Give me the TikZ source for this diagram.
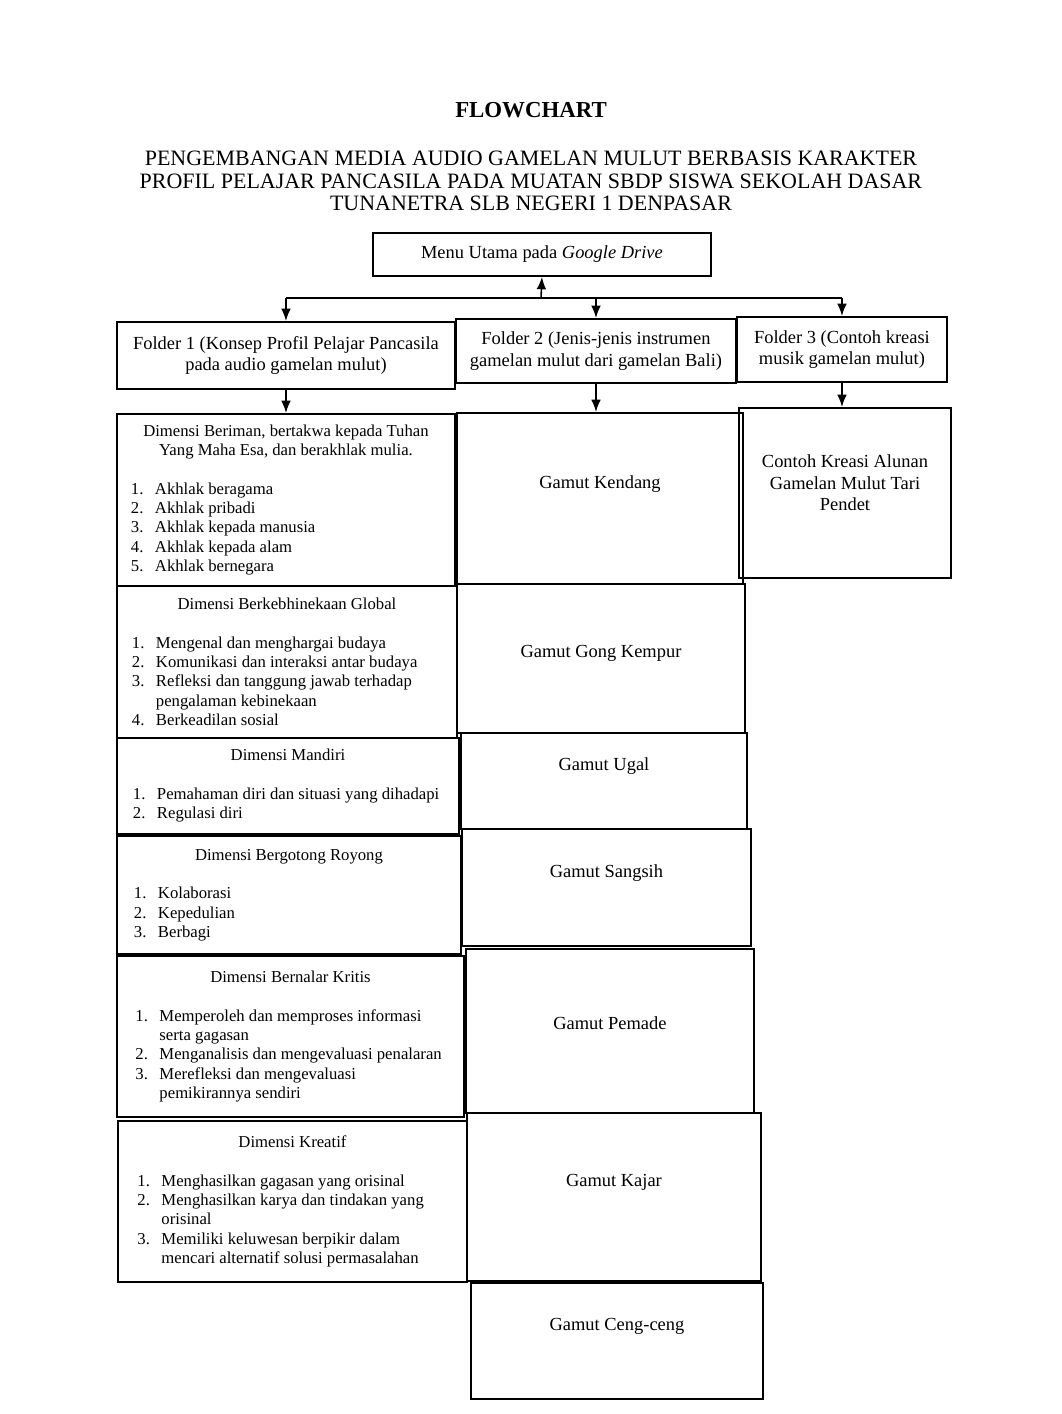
\documentclass[tikz,border=0pt]{standalone}
\usepackage{fontspec}
\setmainfont{Liberation Serif}
\usetikzlibrary{arrows.meta}

\newcommand{\butir}[2]{\mbox{\makebox[0.48cm][l]{#1}#2}}
\newenvironment{isi}{\begin{minipage}{6.2cm}\centering}{\end{minipage}}
\newcommand{\daftar}{\par\vspace{11pt}\raggedright}

\tikzset{
  ukuran/.style 2 args={minimum width=#1*0.02cm, minimum height=#2*0.02cm},
  kotak/.style={draw, line width=1.1pt, anchor=north west, inner sep=0pt, align=center,
    font=\fontsize{10.5}{12.3}\selectfont},
  dimensi/.style={kotak, font=\fontsize{9.5}{11}\selectfont},
  gamut/.style={kotak, text height=7pt, text depth=0.65cm},
  panah/.style={-{Latex[length=7pt,width=5.5pt]}, line width=0.9pt}
}

\begin{document}
\begin{tikzpicture}[x=0.02cm, y=-0.02cm]
\useasboundingbox (0,0) rectangle (1062,1414);

\node[font=\fontsize{13}{15}\selectfont\bfseries] (judul) at (531,110) {FLOWCHART};
\node[align=center, font=\fontsize{12.5}{12.8}\selectfont] (subjudul) at (531,181)
  {PENGEMBANGAN MEDIA AUDIO GAMELAN MULUT BERBASIS KARAKTER\\
   PROFIL PELAJAR PANCASILA PADA MUATAN SBDP SISWA SEKOLAH DASAR\\
   TUNANETRA SLB NEGERI 1 DENPASAR};

\node[kotak, ukuran={338}{43}] (menu) at (372,232) {Menu Utama pada \textit{Google Drive}};

% folder
\node[kotak, ukuran={338}{67}] (f1) at (116,321) {Folder 1 (Konsep Profil Pelajar Pancasila\\pada audio gamelan mulut)};
\node[kotak, ukuran={280}{64}] (f2) at (455,318) {Folder 2 (Jenis-jenis instrumen\\gamelan mulut dari gamelan Bali)};
\node[kotak, ukuran={210}{65}] (f3) at (736,316) {Folder 3 (Contoh kreasi\\musik gamelan mulut)};

% dimensi profil pelajar pancasila
\node[dimensi, ukuran={338}{172}] (d1) at (116,413) {\begin{isi}
  Dimensi Beriman, bertakwa kepada Tuhan\\Yang Maha Esa, dan berakhlak mulia.\daftar
  \butir{1.}{Akhlak beragama}\\
  \butir{2.}{Akhlak pribadi}\\
  \butir{3.}{Akhlak kepada manusia}\\
  \butir{4.}{Akhlak kepada alam}\\
  \butir{5.}{Akhlak bernegara}\end{isi}};
\node[dimensi, ukuran={340}{152}] (d2) at (116,585) {\begin{isi}
  Dimensi Berkebhinekaan Global\daftar
  \butir{1.}{Mengenal dan menghargai budaya}\\
  \butir{2.}{Komunikasi dan interaksi antar budaya}\\
  \butir{3.}{Refleksi dan tanggung jawab terhadap}\\
  \butir{}{pengalaman kebinekaan}\\
  \butir{4.}{Berkeadilan sosial}\end{isi}};
\node[dimensi, ukuran={342}{96}] (d3) at (116,737) {\begin{isi}
  Dimensi Mandiri\daftar
  \butir{1.}{Pemahaman diri dan situasi yang dihadapi}\\
  \butir{2.}{Regulasi diri}\end{isi}};
\node[dimensi, ukuran={344}{118}] (d4) at (116,835) {\begin{isi}
  Dimensi Bergotong Royong\daftar
  \butir{1.}{Kolaborasi}\\
  \butir{2.}{Kepedulian}\\
  \butir{3.}{Berbagi}\end{isi}};
\node[dimensi, ukuran={347}{161}] (d5) at (116,955) {\begin{isi}
  Dimensi Bernalar Kritis\daftar
  \butir{1.}{Memperoleh dan memproses informasi}\\
  \butir{}{serta gagasan}\\
  \butir{2.}{Menganalisis dan mengevaluasi penalaran}\\
  \butir{3.}{Merefleksi dan mengevaluasi}\\
  \butir{}{pemikirannya sendiri}\end{isi}};
\node[dimensi, ukuran={349}{161}] (d6) at (117,1120) {\begin{isi}
  Dimensi Kreatif\daftar
  \butir{1.}{Menghasilkan gagasan yang orisinal}\\
  \butir{2.}{Menghasilkan karya dan tindakan yang}\\
  \butir{}{orisinal}\\
  \butir{3.}{Memiliki keluwesan berpikir dalam}\\
  \butir{}{mencari alternatif solusi permasalahan}\end{isi}};

% jenis instrumen
\node[gamut, ukuran={286}{171}] (kendang) at (456,412) {Gamut Kendang};
\node[gamut, ukuran={288}{149}, text depth=0.3cm] (gong) at (456,583) {Gamut Gong Kempur};
\node[gamut, ukuran={286}{96}] (ugal) at (460,732) {Gamut Ugal};
\node[gamut, ukuran={289}{117}] (sangsih) at (461,828) {Gamut Sangsih};
\node[gamut, ukuran={288}{164}, text depth=0.3cm] (pemade) at (465,948) {Gamut Pemade};
\node[gamut, ukuran={294}{168}] (kajar) at (466,1112) {Gamut Kajar};
\node[gamut, ukuran={292}{116}] (ceng) at (470,1282) {Gamut Ceng-ceng};

% contoh kreasi
\node[kotak, ukuran={212}{170}] (kreasi) at (738,407) {Contoh Kreasi Alunan\\Gamelan Mulut Tari\\Pendet\rule[-11.5pt]{0pt}{1pt}};

\coordinate (bus) at (541,298);
\draw[panah] (bus) -- (menu.south);
\draw[line width=0.9pt] (f1.north |- bus) -- (f3.north |- bus);
\draw[panah] (f1.north |- bus) -- (f1.north);
\draw[panah] (f2.north |- bus) -- (f2.north);
\draw[panah] (f3.north |- bus) -- (f3.north);

\draw[panah] (f1.south) -- (d1.north);
\draw[panah] (f2.south) -- (f2.south |- kendang.north);
\draw[panah] (f3.south) -- (f3.south |- kreasi.north);
\end{tikzpicture}
\end{document}
